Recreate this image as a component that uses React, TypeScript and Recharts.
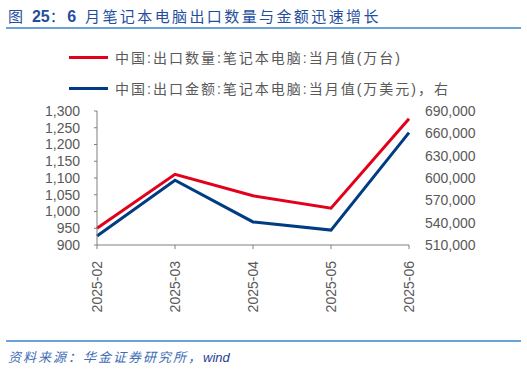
import { LineChart, Line, XAxis, YAxis } from "recharts";

const months = ["2025-02", "2025-03", "2025-04", "2025-05", "2025-06"];
const exportQty = [950, 1111, 1047, 1010, 1277];
const exportValue = [522000, 597000, 541000, 530000, 661000];

const leftTicks = [900, 950, 1000, 1050, 1100, 1150, 1200, 1250, 1300];
const rightTicks = [510000, 540000, 570000, 600000, 630000, 660000, 690000];

const RED = "#E2001A";
const BLUE = "#003C82";
const GRAY = "#595959";
const FONT = "'Liberation Sans', Arial, 'Noto Sans CJK SC', sans-serif";

const data = months.map((m, i) => ({ month: m, qty: exportQty[i], value: exportValue[i] }));

const fmt = (v: number) => v.toLocaleString("en-US");

const MonthTick = ({ x, y, payload }: any) => (
  <g transform={`translate(${x},${y + 10})`}>
    <text
      x={0}
      y={0}
      dy="0.35em"
      textAnchor="end"
      transform="rotate(-90)"
      fill={GRAY}
      fontSize={14}
      fontFamily={FONT}
    >
      {payload.value}
    </text>
  </g>
);

const legendItems = [
  { color: RED, label: "中国:出口数量:笔记本电脑:当月值(万台)", top: 48 },
  { color: BLUE, label: "中国:出口金额:笔记本电脑:当月值(万美元)，右", top: 79 },
];

export default function App() {
  return (
    <div
      style={{
        position: "absolute",
        left: 0,
        top: 0,
        width: 527,
        height: 370,
        background: "#fff",
        fontFamily: FONT,
      }}
    >
      <div
        style={{
          position: "absolute",
          left: 8,
          top: 5,
          fontSize: 15,
          color: "#1F4E9C",
          letterSpacing: 2.4,
          whiteSpace: "nowrap",
        }}
      >
        图 <b style={{ fontSize: 16, letterSpacing: 0 }}>25</b>：<b style={{ fontSize: 16 }}>6</b> 月笔记本电脑出口数量与金额迅速增长
      </div>
      <div style={{ position: "absolute", left: 6, top: 27, width: 515, height: 2, background: "#6AA3D8" }} />

      {legendItems.map((it) => (
        <div key={it.label} style={{ position: "absolute", left: 69, top: it.top, height: 18, display: "flex", alignItems: "center" }}>
          <div style={{ width: 39, height: 3, background: it.color }} />
          <span style={{ marginLeft: 7, fontSize: 14, color: GRAY, letterSpacing: 2, whiteSpace: "nowrap" }}>{it.label}</span>
        </div>
      ))}

      <div style={{ position: "absolute", left: 0, top: 0 }}>
        <LineChart width={527} height={370} data={data} margin={{ top: 111, right: 0, bottom: 45, left: 0 }}>
          <XAxis
            dataKey="month"
            height={80}
            interval={0}
            tick={<MonthTick />}
            tickSize={4}
            axisLine={{ stroke: "#7f7f7f" }}
            tickLine={{ stroke: "#7f7f7f" }}
            padding={{ left: 0, right: 0 }}
          />
          <YAxis
            yAxisId="left"
            width={97}
            domain={[900, 1300]}
            ticks={leftTicks}
            interval={0}
            tickFormatter={fmt}
            tickSize={3}
            tickMargin={14}
            axisLine={{ stroke: "#7f7f7f" }}
            tickLine={{ stroke: "#7f7f7f" }}
            tick={{ fill: GRAY, fontSize: 14, fontFamily: FONT }}
          />
          <YAxis
            yAxisId="right"
            orientation="right"
            width={118}
            domain={[510000, 690000]}
            ticks={rightTicks}
            interval={0}
            tickFormatter={fmt}
            tickSize={0}
            tickMargin={16}
            axisLine={false}
            tickLine={false}
            tick={{ fill: GRAY, fontSize: 14, fontFamily: FONT, textAnchor: "start" }}
          />
          <Line
            yAxisId="left"
            dataKey="qty"
            stroke={RED}
            strokeWidth={3}
            dot={false}
            type="linear"
            isAnimationActive={false}
          />
          <Line
            yAxisId="right"
            dataKey="value"
            stroke={BLUE}
            strokeWidth={3}
            dot={false}
            type="linear"
            isAnimationActive={false}
          />
        </LineChart>
      </div>

      <div style={{ position: "absolute", left: 6, top: 340, width: 515, height: 2, background: "#6AA3D8" }} />
      <div
        style={{
          position: "absolute",
          left: 8,
          top: 347,
          fontSize: 13,
          fontStyle: "italic",
          color: "#3F6DB5",
          letterSpacing: 2,
          whiteSpace: "nowrap",
        }}
      >
        资料来源：华金证券研究所，<span style={{ color: "#1F3F8F", letterSpacing: 0 }}>wind</span>
      </div>
    </div>
  );
}
